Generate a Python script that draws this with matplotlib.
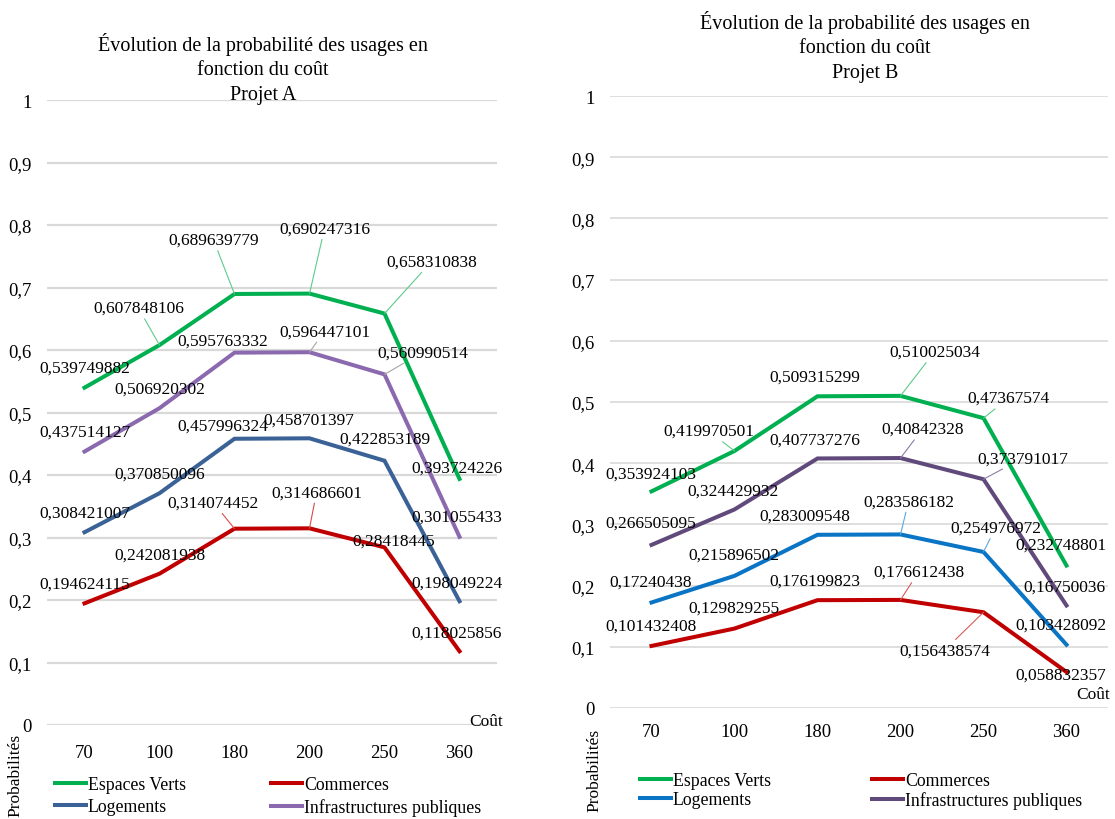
import matplotlib
matplotlib.use('Agg')
import matplotlib.pyplot as plt
from matplotlib.lines import Line2D

plt.rcParams['font.family'] = ['Liberation Serif', 'DejaVu Serif']

## cost categories (x axis)
couts = ['70', '100', '180', '200', '250', '360']

## Projet A
espaces_verts_a = [0.539749882, 0.607848106, 0.689639779, 0.690247316, 0.658310838, 0.393724226]
commerces_a = [0.194624115, 0.242081938, 0.314074452, 0.314686601, 0.28418445, 0.118025856]
logements_a = [0.308421007, 0.370850096, 0.457996324, 0.458701397, 0.422853189, 0.198049224]
infra_a = [0.437514127, 0.506920302, 0.595763332, 0.596447101, 0.560990514, 0.301055433]

## Projet B
espaces_verts_b = [0.353924103, 0.419970501, 0.509315299, 0.510025034, 0.47367574, 0.232748801]
commerces_b = [0.101432408, 0.129829255, 0.176199823, 0.176612438, 0.156438574, 0.058832357]
logements_b = [0.17240438, 0.215896502, 0.283009548, 0.283586182, 0.254976972, 0.103428092]
infra_b = [0.266505095, 0.324429932, 0.407737276, 0.40842328, 0.373791017, 0.16750036]

noms = ['Espaces Verts', 'Commerces', 'Logements', 'Infrastructures publiques']
titre = "Évolution de la probabilité des usages en\nfonction du coût\nProjet {}"

W, H = 1115, 820

"""
label placement per series: (dx, dy) in pixels (dy down), and whether a leader line is drawn
"""
labels_a = {
    'Espaces Verts': ([(0, -20), (-21, -37), (-21, -54), (15, -65), (47, -52), (-3, -11)],
                      [0, 1, 1, 1, 1, 0]),
    'Commerces': ([(0, -20), (0, -19), (-21, -26), (7, -36), (9, -7), (-3, -19)],
                  [0, 0, 1, 1, 0, 0]),
    'Logements': ([(0, -20), (0, -20), (-12, -13), (-1, -19), (0, -22), (-3, -19)],
                  [0, 0, 0, 0, 0, 0]),
    'Infrastructures publiques': ([(0, -20), (0, -20), (-12, -12), (15, -21), (38, -22), (-3, -20)],
                                  [0, 0, 0, 1, 1, 0]),
}
labels_b = {
    'Espaces Verts': ([(-1, -18), (-26, -20), (-3, -20), (34, -44), (25, -20), (-6, -21)],
                      [0, 1, 0, 1, 1, 0]),
    'Commerces': ([(-1, -20), (-1, -21), (-3, -20), (18, -28), (-39, 38), (-6, 3)],
                  [0, 0, 0, 1, 1, 0]),
    'Logements': ([(-1, -21), (-1, -21), (-13, -19), (8, -33), (12, -24), (-6, -20)],
                  [0, 0, 0, 1, 1, 0]),
    'Infrastructures publiques': ([(-1, -22), (-1, -19), (-3, -19), (22, -29), (39, -21), (-2, -19)],
                                  [0, 0, 0, 1, 1, 0]),
}

colors_a = {'Espaces Verts': '#00B050', 'Commerces': '#C00000',
            'Logements': '#3A6296', 'Infrastructures publiques': '#8B69AE'}
colors_b = {'Espaces Verts': '#00B050', 'Commerces': '#C00000',
            'Logements': '#0A75C4', 'Infrastructures publiques': '#604A7B'}
leader_a = {'Espaces Verts': '#5CCB8A', 'Commerces': '#D94A4A',
            'Logements': '#7A95BA', 'Infrastructures publiques': '#A6A6A6'}
leader_b = {'Espaces Verts': '#5CCB8A', 'Commerces': '#D95A5A',
            'Logements': '#5AA6DE', 'Infrastructures publiques': '#8E7CA6'}


def fmt(v):
    return repr(v).replace('.', ',')


def plotProjet(fig, rect, series, labels, colors, leaders, projet, cfg):
    ax = fig.add_axes([rect[0] / W, 1 - rect[3] / H, (rect[2] - rect[0]) / W, (rect[3] - rect[1]) / H])
    x = range(len(couts))
    for nom, vals in series.items():
        ax.plot(x, vals, color=colors[nom], lw=2.9, solid_joinstyle='miter', zorder=3)
        offs, lead = labels[nom]
        for i, v in enumerate(vals):
            dx, dy = offs[i]
            kw = {}
            if lead[i]:
                kw['arrowprops'] = dict(arrowstyle='-', color=leaders[nom], lw=0.8,
                                        shrinkA=0, shrinkB=0)
            ax.annotate(fmt(v), (i, v), xytext=(dx, -dy), textcoords='offset pixels',
                        ha='center', va='center', fontsize=12.5, zorder=4, **kw)

    ax.set_xlim(-0.5, len(couts) - 0.5)
    ax.set_ylim(0, 1)
    ax.set_yticks([i / 10 for i in range(11)])
    ax.set_yticklabels(['0'] + ['0,%d' % i for i in range(1, 10)] + ['1'], fontsize=13.5)
    ax.set_xticks(list(x))
    ax.set_xticklabels(couts, fontsize=13.5)
    ax.tick_params(axis='y', length=0, pad=cfg['ypad'])
    ax.tick_params(axis='x', length=0, pad=cfg['xpad'])
    ax.yaxis.grid(True, color='#D9D9D9', lw=cfg['grid'])
    ax.set_axisbelow(True)
    for s in ax.spines.values():
        s.set_visible(False)

    ax.text(1.0 + cfg['cout_dx'] / (rect[2] - rect[0]), cfg['cout_dy'] / (rect[3] - rect[1]), 'Coût',
            transform=ax.transAxes, ha='right', va='bottom', fontsize=12.5)

    fig.text(cfg['title'][0] / W, 1 - cfg['title'][1] / H, titre.format(projet), ha='center', va='top',
             fontsize=14.5, linespacing=1.38)
    fig.text(cfg['ylab'][0] / W, 1 - cfg['ylab'][1] / H, 'Probabilités', rotation=90,
             ha='center', va='center', fontsize=12.5)

    handles = [Line2D([], [], color=colors[n], lw=2.9) for n in ['Espaces Verts', 'Logements', 'Commerces', 'Infrastructures publiques']]
    ax.legend(handles, ['Espaces Verts', 'Logements', 'Commerces', 'Infrastructures publiques'],
              ncol=2, loc='upper left', bbox_to_anchor=(cfg['leg'][0] / W, 1 - cfg['leg'][1] / H),
              bbox_transform=fig.transFigure, frameon=False, fontsize=12.8,
              handlelength=1.75, handletextpad=0.1, columnspacing=cfg['colsp'],
              labelspacing=cfg['labsp'], borderpad=0, borderaxespad=0)
    return ax


fig = plt.figure(figsize=(W / 100, H / 100), dpi=100)

plotProjet(fig, (47, 101, 497, 726),
           {'Espaces Verts': espaces_verts_a, 'Commerces': commerces_a,
            'Logements': logements_a, 'Infrastructures publiques': infra_a},
           labels_a, colors_a, leader_a, 'A',
           dict(ypad=11, xpad=14, grid=1.6, cout_dx=6, cout_dy=-4, title=(263, 33),
                ylab=(15, 775), leg=(55, 777), colsp=4.8, labsp=0.3))

plotProjet(fig, (610, 97, 1108, 709),
           {'Espaces Verts': espaces_verts_b, 'Commerces': commerces_b,
            'Logements': logements_b, 'Infrastructures publiques': infra_b},
           labels_b, colors_b, leader_b, 'B',
           dict(ypad=11, xpad=11, grid=1.2, cout_dx=2, cout_dy=6, title=(865, 11),
                ylab=(594, 770), leg=(640, 773), colsp=5.7, labsp=0.12))

fig.savefig('out.png', dpi=100)
